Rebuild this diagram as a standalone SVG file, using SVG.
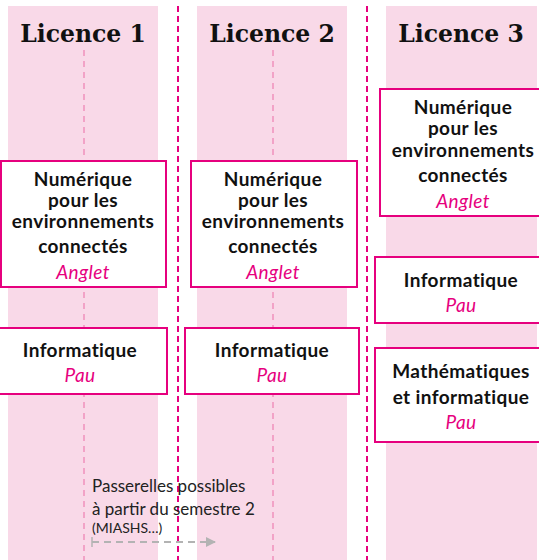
<svg xmlns="http://www.w3.org/2000/svg" width="539" height="560" viewBox="0 0 539 560">
<defs>
<style>
.col{fill:#f9d9e8}
.div{stroke:#e6007e;stroke-width:2;stroke-dasharray:6 4;fill:none}
.inner{stroke:#f2a3c7;stroke-width:2;stroke-dasharray:6 5;fill:none}
.box{fill:#fff;stroke:#e6007e;stroke-width:2}
.title{font-family:"DejaVu Serif","Liberation Serif",serif;font-weight:bold;font-size:23.5px;fill:#111;text-anchor:middle}
.t{font-family:Lato,"Liberation Sans",sans-serif;font-weight:bold;font-size:19px;letter-spacing:0.4px;fill:#111;text-anchor:middle}
.loc{font-family:Lato,"Liberation Sans",sans-serif;font-style:italic;font-size:19px;letter-spacing:0.4px;fill:#e6007e;text-anchor:middle}
.note{font-family:Lato,"Liberation Sans",sans-serif;font-size:17px;fill:#222}
</style>
<marker id="ah" markerWidth="10" markerHeight="10" refX="9" refY="5" orient="auto" markerUnits="userSpaceOnUse">
<path d="M0,0 L10,5 L0,10 z" fill="#b3b3b3"/>
</marker>
</defs>
<rect width="539" height="560" fill="#fff"/>
<g id="columns">
<rect class="col" x="8" y="6" width="150" height="554"/>
<rect class="col" x="197" y="6" width="150" height="554"/>
<rect class="col" x="386" y="6" width="151" height="554"/>
<text class="title" x="83" y="42">Licence 1</text>
<text class="title" x="272" y="42">Licence 2</text>
<text class="title" x="461" y="42">Licence 3</text>
</g>
<g id="connectors">
<line class="div" x1="178" y1="6" x2="178" y2="560"/>
<line class="div" x1="367" y1="6" x2="367" y2="560"/>
<line class="inner" x1="84" y1="50" x2="84" y2="560"/>
<line class="inner" x1="273" y1="50" x2="273" y2="560"/>
<line x1="92" y1="542" x2="215" y2="542" stroke="#b3b3b3" stroke-width="2" stroke-dasharray="7 5" marker-end="url(#ah)"/>
<line x1="92" y1="537" x2="92" y2="547" stroke="#b3b3b3" stroke-width="1.5"/>
</g>
<g id="l1-num">
<rect class="box" x="1" y="161" width="165" height="126"/>
<text class="t" x="83" y="186">Numérique</text>
<text class="t" x="83" y="207">pour les</text>
<text class="t" x="83" y="228">environnements</text>
<text class="t" x="83" y="253">connectés</text>
<text class="loc" x="83" y="279">Anglet</text>
</g>
<g id="l1-info">
<rect class="box" x="-1" y="328" width="168" height="66"/>
<text class="t" x="80" y="357">Informatique</text>
<text class="loc" x="80" y="382">Pau</text>
</g>
<g id="l2-num">
<rect class="box" x="191" y="161" width="166" height="126"/>
<text class="t" x="273" y="186">Numérique</text>
<text class="t" x="273" y="207">pour les</text>
<text class="t" x="273" y="228">environnements</text>
<text class="t" x="273" y="253">connectés</text>
<text class="loc" x="273" y="279">Anglet</text>
</g>
<g id="l2-info">
<rect class="box" x="185" y="328" width="174" height="66"/>
<text class="t" x="272" y="357">Informatique</text>
<text class="loc" x="272" y="382">Pau</text>
</g>
<g id="l3-num">
<rect class="box" x="380" y="89" width="165" height="127"/>
<text class="t" x="463" y="114">Numérique</text>
<text class="t" x="463" y="135">pour les</text>
<text class="t" x="463" y="157">environnements</text>
<text class="t" x="463" y="182">connectés</text>
<text class="loc" x="463" y="208">Anglet</text>
</g>
<g id="l3-info">
<rect class="box" x="375" y="257" width="170" height="66"/>
<text class="t" x="461" y="287">Informatique</text>
<text class="loc" x="461" y="312">Pau</text>
</g>
<g id="l3-math">
<rect class="box" x="375" y="348" width="170" height="94"/>
<text class="t" x="461" y="378">Mathématiques</text>
<text class="t" x="461" y="404">et informatique</text>
<text class="loc" x="461" y="429">Pau</text>
</g>
<g id="note">
<text class="note" x="92" y="492">Passerelles possibles</text>
<text class="note" x="92" y="515">à partir du semestre 2</text>
<text class="note" x="92" y="533" style="font-size:14px">(MIASHS…)</text>
</g>
</svg>
